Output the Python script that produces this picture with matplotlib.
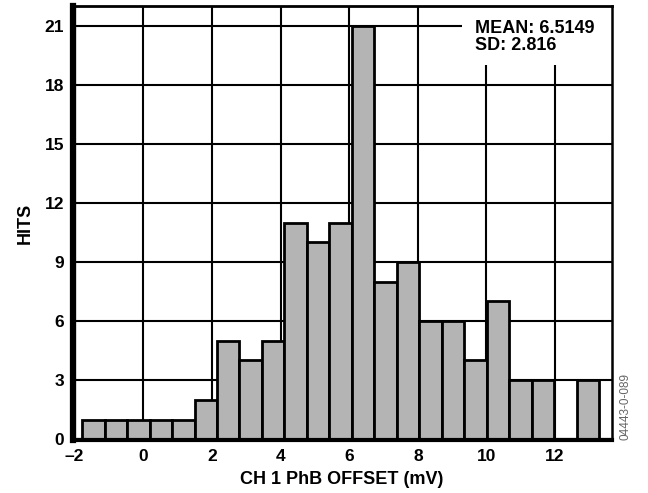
import numpy as np
import matplotlib.pyplot as plt
from matplotlib.patches import Rectangle

plt.rcParams['font.family'] = ['Liberation Sans', 'DejaVu Sans']
plt.rcParams['font.weight'] = 'bold'

# histogram data (mV offset, hits per bin)
bin_start = -2.435
bin_width = 0.6548
hits = [0, 1, 1, 1, 1, 1, 2, 5, 4, 5, 11, 10, 11, 21, 8, 9, 6, 6, 4, 7, 3, 3, 0, 3, 0]
x_ticks = [-2, 0, 2, 4, 6, 8, 10, 12]
y_ticks = [0, 3, 6, 9, 12, 15, 18, 21]
stats_text = "MEAN: 6.5149\nSD: 2.816"

edges = bin_start + bin_width * np.arange(len(hits))

fig = plt.figure(figsize=(6.48, 4.93), dpi=100)
ax = fig.add_axes([0.112, 0.107, 0.832, 0.881])

ax.bar(edges, hits, width=bin_width, align='edge', color='#b4b4b4',
       edgecolor='black', linewidth=2.0, zorder=3)

ax.set_xlim(-2.06, 13.65)
ax.set_ylim(-0.05, 22)
ax.set_xticks(x_ticks)
ax.set_xticklabels(["\u20132" if t < 0 else str(t) for t in x_ticks])
ax.set_yticks(y_ticks)
ax.tick_params(length=0, labelsize=12.5)
ax.tick_params(axis='x', pad=6)
ax.tick_params(axis='y', pad=6)
for lab in ax.get_xticklabels() + ax.get_yticklabels():
    lab.set_fontweight('bold')

ax.grid(True, color='black', linewidth=1.5, zorder=1)
ax.set_axisbelow(True)

ax.spines['left'].set_linewidth(4.5)
ax.spines['bottom'].set_linewidth(3)
ax.spines['top'].set_linewidth(2)
ax.spines['right'].set_linewidth(1.8)
for s in ax.spines.values():
    s.set_zorder(6)

# white stats box in the upper right corner
ax.add_patch(Rectangle((0.722, 0.863), 0.29, 0.14, transform=ax.transAxes,
                       facecolor='white', edgecolor='none', zorder=4))
ax.text(0.747, 0.968, stats_text, transform=ax.transAxes, ha='left', va='top',
        fontsize=13, fontweight='bold', linespacing=1.0, zorder=5)

ax.set_xlabel("CH 1 PhB OFFSET (mV)", fontsize=13, fontweight='bold', labelpad=5)
ax.set_ylabel("HITS", fontsize=13, fontweight='bold', labelpad=8)

fig.text(0.966, 0.176, "04443-0-089", rotation=90, fontsize=8.5,
         color='#666666', ha='center', va='center', fontweight='normal')

fig.savefig("out.png", dpi=100)
